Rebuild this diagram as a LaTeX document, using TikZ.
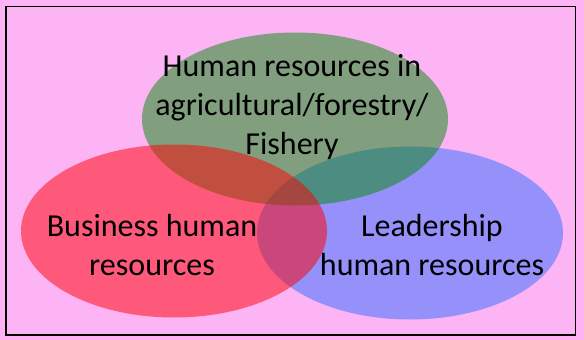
\documentclass[tikz,border=0pt]{standalone}
\usepackage{fontspec}
\setmainfont{Carlito}
\usetikzlibrary{shapes.geometric}
\definecolor{pinkbg}{RGB}{253,180,245}
\definecolor{bluec}{RGB}{47,110,255}
\definecolor{greenc}{RGB}{6,140,10}
\definecolor{redc}{RGB}{255,0,0}
\begin{document}
\begin{tikzpicture}[x=1pt,y=-1pt]
\fill[pinkbg] (0,0) rectangle (584,340);
\useasboundingbox (0,0) rectangle (584,340);
\draw[line width=1.8pt] (5.6,6.5) rectangle (575.4,335);
   \foreach \c/\x/\y [count=\n] in
        {bluec/410/233,greenc/295/119,redc/174/231}
           \node[ellipse,fill=\c,fill opacity=0.5,minimum width=306pt,minimum height=173pt,inner sep=0pt](E\n) at (\x,\y) {};
\node[align=center,font=\fontsize{32}{39}\selectfont](T1) at (292,107) {Human resources in\\agricultural/forestry/\\Fishery};
\node[align=center,font=\fontsize{32}{39}\selectfont](T2) at (152,245) {Business human\\resources};
\node[align=center,font=\fontsize{32}{39}\selectfont](T3) at (432,245) {Leadership\\human resources};

\end{tikzpicture}
\end{document}
